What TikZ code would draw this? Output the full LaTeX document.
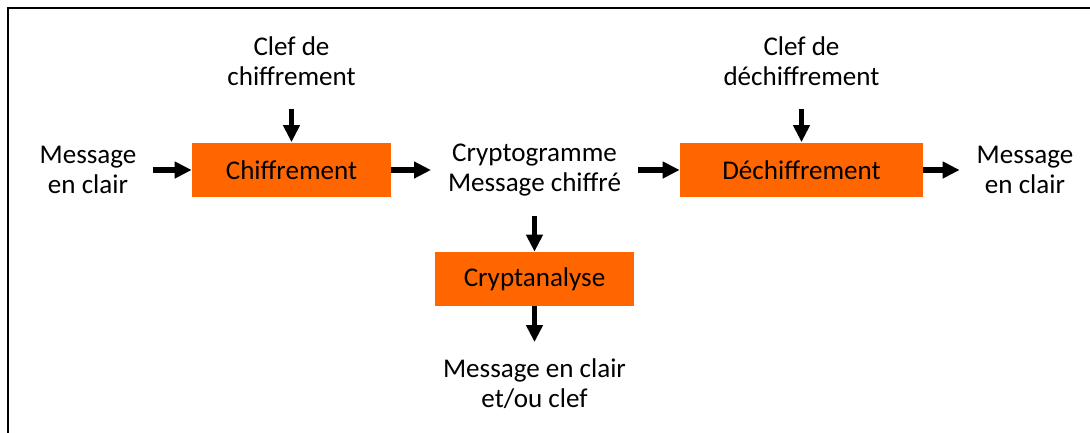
\documentclass[tikz,border=0pt]{standalone}
\usepackage{fontspec}
\setmainfont{Carlito}
\usetikzlibrary{positioning, arrows.meta}
\definecolor{boxorange}{RGB}{255,102,0}
\tikzstyle{process} = [rectangle, minimum width=3.98cm, minimum height=1.1cm, text centered, fill=boxorange, inner sep=0pt]
\tikzstyle{info} = [align=center, inner sep=0pt, outer sep=0.34cm]
\tikzstyle{arrow} = [line width=3pt, -{Triangle[length=0.34cm, width=0.32cm]}]

\begin{document}
\begin{tikzpicture}[x=0.02cm, y=-0.02cm, font={\fontsize{15.4}{17}\selectfont}]
\useasboundingbox (0,0) rectangle (1090,433);
\draw [line width=1.2pt] (8,433) -- (8,8) -- (1090,8);

\node (chif) [process] at (291.5,170) {Chiffrement};
\node (dech) [process, minimum width=4.86cm] at (801.5,170) {Déchiffrement};
\node (crypta) [process, minimum height=1.08cm] at (534.5,279) {Cryptanalyse};

\node (clefc) [info] at (291.5,61) {Clef de\\chiffrement};
\node (clefd) [info] at (801.5,61) {Clef de\\déchiffrement};
\node (msgin) [info] at (88,170) {Message\\en clair};
\node (crypto) [info] at (534.5,170) {Cryptogramme\\Message chiffré};
\node (msgout) [info] at (1025,170) {Message\\en clair};
\node (result) [info] at (534.5,384) {Message en clair\\et/ou clef};

\draw [arrow] (msgin) -- (chif);
\draw [arrow, shorten <=0.14cm] (clefc) -- (chif);
\draw [arrow] (chif) -- (crypto);
\draw [arrow] (crypto) -- (dech);
\draw [arrow] (dech) -- (msgout);
\draw [arrow, shorten <=0.14cm] (clefd) -- (dech);
\draw [arrow, shorten <=0.06cm] (crypto) -- (crypta);
\draw [arrow] (crypta) -- (result);
\end{tikzpicture}
\end{document}
